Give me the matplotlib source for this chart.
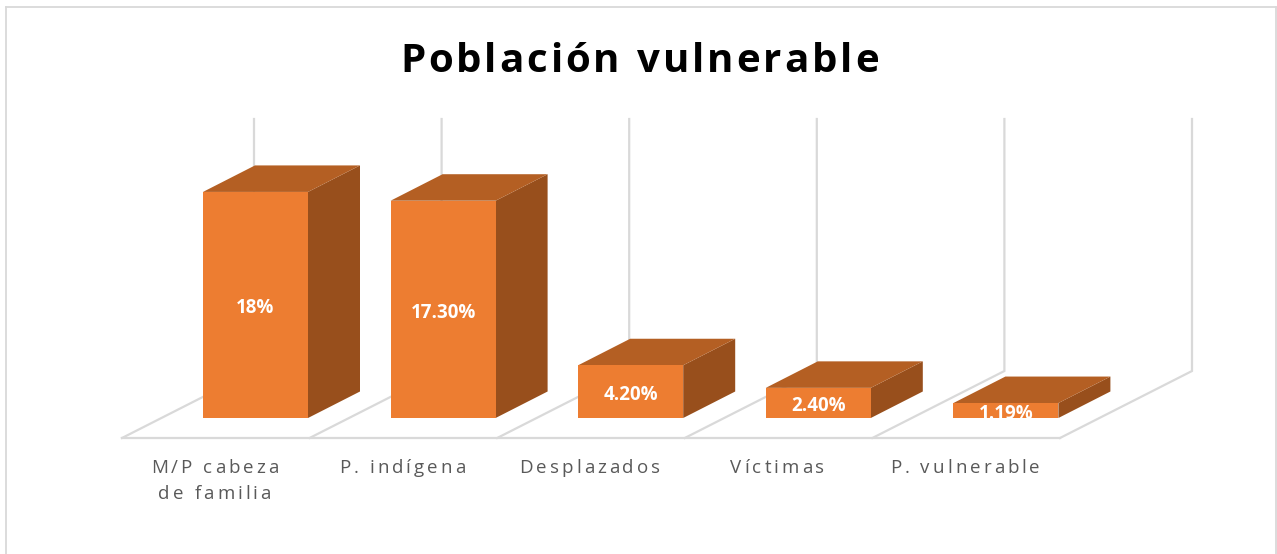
import matplotlib
matplotlib.use("Agg")
import matplotlib.pyplot as plt
from matplotlib.patches import Polygon, Rectangle
from matplotlib.lines import Line2D
from matplotlib.text import Text
from matplotlib.transforms import Bbox, IdentityTransform

categories = ["M/P cabeza\nde familia", "P. indígena", "Desplazados", "Víctimas", "P. vulnerable"]
values = [18.0, 17.3, 4.2, 2.4, 1.19]
value_labels = ["18%", "17.30%", "4.20%", "2.40%", "1.19%"]
title = "Población vulnerable"

W, H = 1277, 554
FRONT, TOP, SIDE = "#ED7D31", "#B45F23", "#984F1C"
GRID, BORDER, LABEL = "#D9D9D9", "#D9D9D9", "#595959"


class TrackedText(Text):
    """One text artist that holds the whole string and draws it centred with letter spacing."""

    def __init__(self, *args, tracking=0.0, pitch=26.0, **kwargs):
        super().__init__(*args, ha="center", va="baseline", **kwargs)
        self.tracking = tracking
        self.pitch = pitch

    def _layout_chars(self, renderer):
        cx, cy = self.get_transform().transform(self.get_position())
        fp = self.get_fontproperties()
        space = renderer.get_text_width_height_descent("n", fp, False)[0] * 0.45
        out = []
        for row, line in enumerate(self.get_text().split("\n")):
            adv = [space if c == " " else renderer.get_text_width_height_descent(c, fp, False)[0]
                   for c in line]
            total = sum(adv) + self.tracking * (len(line) - 1)
            x = cx - total / 2
            y = cy - row * self.pitch
            for c, a in zip(line, adv):
                out.append((c, x, y, a))
                x += a + self.tracking
        return out

    def get_window_extent(self, renderer=None, dpi=None):
        renderer = renderer or self.get_figure().canvas.get_renderer()
        items = self._layout_chars(renderer)
        size = self.get_fontproperties().get_size_in_points() * 100 / 72
        return Bbox([[min(i[1] for i in items), min(i[2] for i in items) - 0.25 * size],
                     [max(i[1] + i[3] for i in items), max(i[2] for i in items) + 0.8 * size]])

    def draw(self, renderer):
        for c, x, y, _ in self._layout_chars(renderer):
            if c == " ":
                continue
            t = Text(x, y, c, color=self.get_color(), fontproperties=self.get_fontproperties(),
                     ha="left", va="baseline", transform=IdentityTransform())
            t.set_figure(self.get_figure())
            t.draw(renderer)


fig = plt.figure(figsize=(W / 100, H / 100), dpi=100, facecolor="white")
ax = fig.add_axes([0, 0, 1, 1])
# 1 x unit = one category slot (187.6 px), 1 y unit = one percentage point (12.56 px)
sx, sy = 187.6, 12.56
ax.set_xlim(-255.5 / sx, (W - 255.5) / sx)
ax.set_ylim((418 - H) / sy, 418 / sy)
ax.axis("off")

bar_w = 105 / sx
bar_dx, bar_dy = 52 / sx, 26.5 / sy
floor_y = -20 / sy
floor_dx, floor_dy = 132 / sx, 67 / sy
wall_h = 252 / sy
grid_x0 = (122 - 255.5) / sx
n = len(categories)

# floor and walls
ax.add_line(Line2D([grid_x0, grid_x0 + n], [floor_y, floor_y], color=GRID, lw=1.6, zorder=1))
for i in range(n + 1):
    x0 = grid_x0 + i
    x1 = x0 + floor_dx
    y1 = floor_y + floor_dy
    ax.add_line(Line2D([x0, x1, x1], [floor_y, y1, y1 + wall_h], color=GRID, lw=1.6,
                       solid_joinstyle="miter", zorder=1))

# bars
for i, (v, lab, cat) in enumerate(zip(values, value_labels, categories)):
    l, r = i - bar_w / 2, i + bar_w / 2
    ax.add_patch(Polygon([(r, 0), (r + bar_dx, bar_dy), (r + bar_dx, v + bar_dy), (r, v)],
                         fc=SIDE, ec="none", zorder=3))
    ax.add_patch(Polygon([(l, v), (l + bar_dx, v + bar_dy), (r + bar_dx, v + bar_dy), (r, v)],
                         fc=TOP, ec="none", zorder=3))
    front = Rectangle((l, 0), bar_w, v, fc=FRONT, ec="none", zorder=4)
    ax.add_patch(front)
    t = ax.text(i, v / 2 - 0.27, lab, color="white", fontsize=13.5, fontweight="bold",
                family="Open Sans", ha="center", va="center", zorder=5)
    t.set_clip_path(front)
    ax.add_artist(TrackedText(i - 0.218, floor_y - 35 / sy, cat, color=LABEL, fontsize=13.5,
                              family="Open Sans", tracking=3.0, pitch=26, zorder=5,
                              transform=ax.transData))

fig.add_artist(TrackedText(639.5 / W, 1 - 72 / H, title, fontsize=29, fontweight="bold",
                           family="Open Sans", color="black", tracking=2.9,
                           transform=fig.transFigure))

# chart frame
for xs, ys in [((6, 6), (7, H)), ((6, 1276), (7, 7)), ((1276, 1276), (7, H))]:
    fig.add_artist(Line2D([x / W for x in xs], [1 - y / H for y in ys], color=BORDER, lw=1.3))

fig.savefig("out.png", dpi=100, facecolor="white")
